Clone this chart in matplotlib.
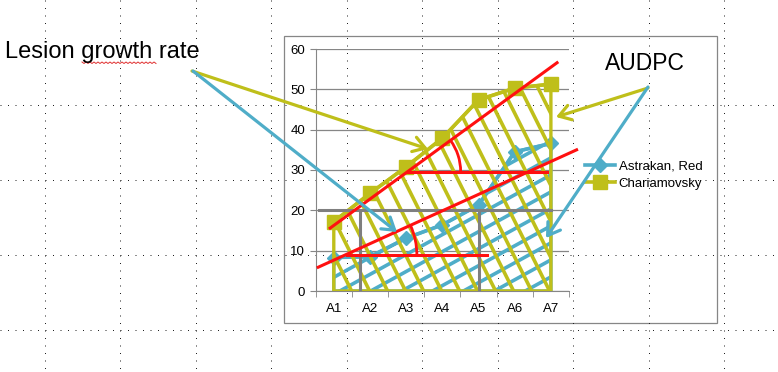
import numpy as np
import matplotlib
matplotlib.use("Agg")
import matplotlib.pyplot as plt
import matplotlib.transforms as mtransforms
from matplotlib.patches import Polygon, Rectangle, Arc

plt.rcParams['font.family'] = ['Liberation Sans', 'DejaVu Sans']

# data
categories = ['A1', 'A2', 'A3', 'A4', 'A5', 'A6', 'A7']
astrakan = [8.3, 8.5, 13.1, 16.4, 21.3, 34.5, 36.6]
chariamovsky = [17.2, 24.2, 30.8, 37.9, 47.4, 50.3, 51.3]

# hand drawn annotation lines (data coords of the chart)
upper_red = [(-0.10, 15.6), (6.17, 56.6)]
upper_level = 29.6
upper_level_x = (2.05, 5.89)
lower_red = [(-0.43, 5.9), (6.71, 35.0)]
lower_level = 8.9
lower_level_x = (0.36, 4.23)
gray_top = 20
gray_top_x = (-0.40, 6.0)
gray_verticals = [0.72, 4.0]

# annotation arrows (figure pixels, y down)
arrows_olive = [((192, 71), (428, 149)), ((648, 88), (556, 117))]
arrows_blue = [((193, 71), (397, 232)), ((648, 87), (546, 238))]

W, H = 778, 372
OLIVE = '#BFBF1A'
BLUE = '#4FADC8'
RED = '#FF1010'
GRAY = '#868686'

fig = plt.figure(figsize=(W / 100, H / 100), dpi=100)

# background: dotted page grid and chart frame
bg = fig.add_axes([0, 0, 1, 1], zorder=0)
bg.set_xlim(0, W)
bg.set_ylim(H, 0)
bg.axis('off')
for x in np.arange(45, W, 75.5):
    bg.plot([x, x], [0, H], color='#222222', lw=0.72, dashes=(1, 6.5))
for y in np.arange(105, H, 75):
    bg.plot([0, W], [y, y], color='#222222', lw=0.72, dashes=(1, 6.5))
bg.add_patch(Rectangle((284, 36), 433, 287, fill=True, facecolor='none',
                       edgecolor=GRAY, lw=0.9))

# chart axes
left, right, top, bottom = 315.7, 569, 49, 291
ax = fig.add_axes([left / W, 1 - bottom / H, (right - left) / W, (bottom - top) / H], zorder=2)
ax.patch.set_alpha(0)
x = np.arange(len(categories))
ax.set_xlim(-0.5, len(categories) - 0.5)
ax.set_ylim(0, 60)
ax.set_yticks(np.arange(0, 61, 10))
ax.set_xticks(x)
ax.set_xticklabels(categories)
ax.set_xticks(np.arange(-0.5, len(categories), 1), minor=True)
ax.tick_params(axis='x', which='major', length=0, pad=9, labelsize=9.5)
ax.tick_params(axis='x', which='minor', length=4, color=GRAY, direction='out')
ax.tick_params(axis='y', length=4.5, color=GRAY, labelsize=9.5, pad=3)
ax.grid(axis='y', color=GRAY, lw=0.9)
ax.set_axisbelow(True)
for s in ['top', 'right']:
    ax.spines[s].set_visible(False)
for s in ['left', 'bottom']:
    ax.spines[s].set_color(GRAY)

# pixel scale of the data units, for the hatch angles
px_x = (right - left) / len(categories)
px_y = (bottom - top) / 60.0


def hatch(values, color, pix_slope, step_px, z):
    verts = [(x[0], 0)] + list(zip(x, values)) + [(x[-1], 0)]
    poly = Polygon(verts, closed=True, fill=False, edgecolor=color, lw=2.4, zorder=z)
    ax.add_patch(poly)
    slope = pix_slope * px_x / px_y
    if pix_slope < 0:
        offs = np.arange(-1, 12, step_px / px_x)
        for c in offs:
            xs = np.array([c - 5, c])
            ln, = ax.plot(xs, slope * (xs - c), color=color, lw=2.6, zorder=z,
                          solid_capstyle='butt')
            ln.set_clip_path(poly)
    else:
        offs = np.arange(-slope * 7, 60, step_px / px_y)
        for b in offs:
            xs = np.array([-1, 7])
            ln, = ax.plot(xs, slope * xs + b, color=color, lw=2.6, zorder=z,
                          solid_capstyle='butt')
            ln.set_clip_path(poly)


hatch(astrakan, BLUE, 0.55, 17, 2)
ax.plot(x, astrakan, color=BLUE, lw=2.6, marker='D', ms=7, zorder=2.5,
        label='Astrakan, Red')
hatch(chariamovsky, OLIVE, -2.0, 18, 3)
ax.plot(x, chariamovsky, color=OLIVE, lw=2.6, marker='s', ms=9.5, zorder=3.5,
        label='Chariamovsky')

# gray box lines
ax.plot(gray_top_x, [gray_top, gray_top], color='#7f7f7f', lw=2.2, zorder=4)
for gx in gray_verticals:
    ax.plot([gx, gx], [0, gray_top], color='#7f7f7f', lw=2.2, zorder=4)


def red_angle(line, level, level_x, radius_px):
    (x1, y1), (x2, y2) = line
    ax.plot([x1, x2], [y1, y2], color=RED, lw=2.2, zorder=5, clip_on=False)
    ax.plot(level_x, [level, level], color=RED, lw=2.2, zorder=5)
    xc = x1 + (level - y1) * (x2 - x1) / (y2 - y1)
    ang = np.degrees(np.arctan2((y2 - y1) * px_y, (x2 - x1) * px_x))
    trans = fig.dpi_scale_trans + mtransforms.ScaledTranslation(xc, level, ax.transData)
    r = radius_px / 100.0
    ax.add_patch(Arc((0, 0), 2 * r, 2 * r, theta1=0, theta2=ang, transform=trans,
                     color=RED, lw=2.0, zorder=5, clip_on=False))


red_angle(upper_red, upper_level, upper_level_x, 53)
red_angle(lower_red, lower_level, lower_level_x, 72)

ax.legend(loc='center left', bbox_to_anchor=(585 / W, 1 - 175 / H),
          bbox_transform=fig.transFigure, frameon=False, fontsize=9.5,
          handlelength=2.3, handletextpad=0.25, labelspacing=0.35, borderpad=0,
          borderaxespad=0)

# overlay: arrows and text
ov = fig.add_axes([0, 0, 1, 1], zorder=6)
ov.set_xlim(0, W)
ov.set_ylim(H, 0)
ov.axis('off')
ov.patch.set_alpha(0)
for (start, tip) in arrows_olive:
    ov.annotate('', xy=tip, xytext=start,
                arrowprops=dict(arrowstyle='->,head_length=0.7,head_width=0.45',
                                color=OLIVE, lw=2.3, shrinkA=0, shrinkB=0,
                                mutation_scale=12))
for (start, tip) in arrows_blue:
    ov.annotate('', xy=tip, xytext=start,
                arrowprops=dict(arrowstyle='->,head_length=0.7,head_width=0.45',
                                color=BLUE, lw=2.3, shrinkA=0, shrinkB=0,
                                mutation_scale=12))

ov.text(5, 58, 'Lesion growth rate', fontsize=17, ha='left', va='baseline', color='black')
ov.text(645, 63, 'AUDPC', fontsize=16.5, ha='center', va='center', color='black')
# spell-check squiggle under "growth"
sx = np.arange(82, 157, 2)
ov.plot(sx, 62 + (np.arange(len(sx)) % 2) * 1.5, color='#E03030', lw=0.7)

fig.savefig('out.png', dpi=100)
